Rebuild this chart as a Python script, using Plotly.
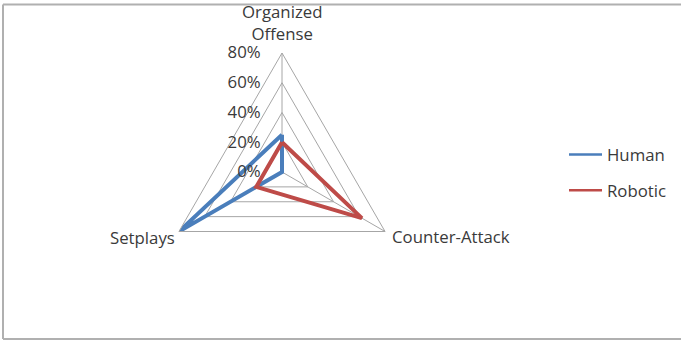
import plotly.graph_objects as go

# Share of goals by play type
categories = ["Organized Offense", "Counter-Attack", "Setplays"]
category_labels = ["Organized<br>Offense", "Counter-Attack", "Setplays"]
human = [25, 0, 80]
robotic = [20, 62, 20]
radial_ticks = [0, 20, 40, 60, 80]
radial_labels = ["0%", "20%", "40%", "60%", "80%"]

FONT = "Open Sans"
SIZE = 16.8
TEXT = "#3a3a3a"
GRID = "#a6a6a6"
W, H = 681, 341
series = [("Human", human, "#4a7ebb", "h"), ("Robotic", robotic, "#be4b48", "r")]


def closed(values):
    return list(values) + [values[0]]


fig = go.Figure()
for name, values, color, group in series:
    fig.add_trace(go.Scatterpolar(
        r=closed(values), theta=closed(categories), mode="lines", name=name,
        line=dict(color=color, width=4), legendgroup=group, showlegend=False,
    ))
    # legend key drawn with a thinner stroke
    fig.add_trace(go.Scatterpolar(
        r=[None], theta=[None], mode="lines", name=name,
        line=dict(color=color, width=2.5), legendgroup=group, showlegend=True,
        hoverinfo="skip",
    ))

# Chart frame
frame = dict(color="#b0b0b0", width=2)
fig.add_shape(type="line", xref="paper", yref="paper", x0=3 / W, x1=1, y0=1 - 4.5 / H, y1=1 - 4.5 / H, line=frame)
fig.add_shape(type="line", xref="paper", yref="paper", x0=3 / W, x1=3 / W, y0=1 - 4.5 / H, y1=1 - 339 / H, line=frame)
fig.add_shape(type="line", xref="paper", yref="paper", x0=3 / W, x1=1, y0=1 - 339 / H, y1=1 - 339 / H, line=frame)

# Category labels around the radar
label_spots = [
    dict(x=282, y=23, xanchor="center"),
    dict(x=390, y=236, xanchor="left"),
    dict(x=177, y=237, xanchor="right"),
]
for text, spot in zip(category_labels, label_spots):
    fig.add_annotation(
        text=text, xref="paper", yref="paper",
        x=spot["x"] / W, y=1 - spot["y"] / H,
        xanchor=spot["xanchor"], yanchor="middle", showarrow=False,
        font=dict(family=FONT, size=SIZE, color=TEXT),
    )

cx, cy, rad = 282, 172, 119
fig.update_layout(
    width=W, height=H,
    margin=dict(l=0, r=0, t=0, b=0),
    paper_bgcolor="white",
    font=dict(family=FONT, size=SIZE, color=TEXT),
    polar=dict(
        domain=dict(x=[(cx - rad) / W, (cx + rad) / W],
                    y=[1 - (cy + rad) / H, 1 - (cy - rad) / H]),
        gridshape="linear",
        bgcolor="white",
        angularaxis=dict(
            rotation=90, direction="clockwise",
            categoryorder="array", categoryarray=categories,
            showline=True, linecolor=GRID, linewidth=1,
            gridcolor=GRID, gridwidth=1,
            ticks="", showticklabels=False,
        ),
        radialaxis=dict(
            range=[0, 80], angle=90, side="counterclockwise",
            tickvals=radial_ticks, ticktext=radial_labels,
            tickangle=90,
            showline=False, gridcolor=GRID, gridwidth=1,
            ticks="outside", ticklen=15, tickcolor="rgba(0,0,0,0)",
            tickfont=dict(family=FONT, size=SIZE, color=TEXT),
        ),
    ),
    showlegend=True,
    legend=dict(
        x=564 / W, y=1 - 137 / H, xanchor="left", yanchor="top",
        traceorder="grouped", tracegroupgap=11,
        font=dict(family=FONT, size=SIZE, color=TEXT),
        bgcolor="rgba(0,0,0,0)", itemwidth=33,
    ),
)

fig.write_html("out.html")
